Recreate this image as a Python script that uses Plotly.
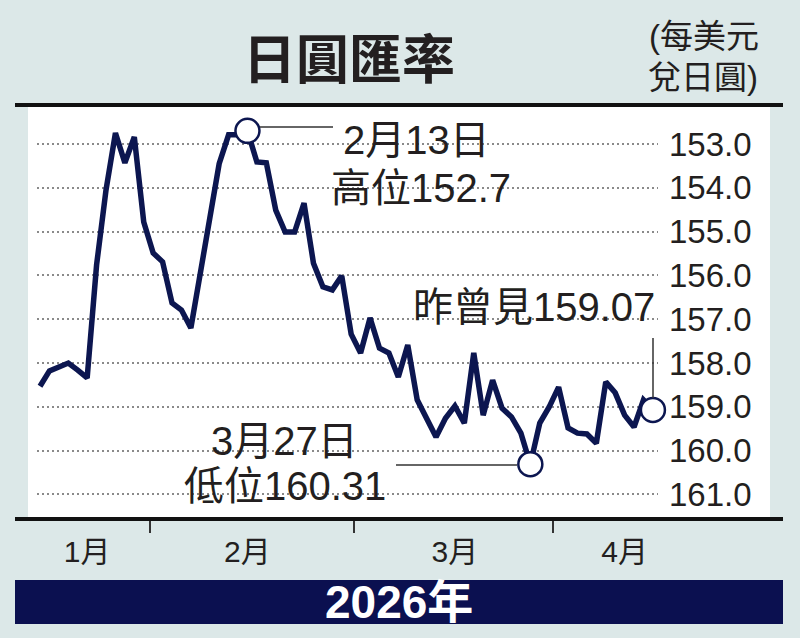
import pandas as pd
import plotly.graph_objects as go

# ---------------- data ----------------
dates = [d.strftime("%Y-%m-%d") for d in pd.bdate_range("2026-01-14", "2026-04-15")]
usd_jpy = [158.53, 158.18, 158.09, 158.00, 158.16, 158.34, 155.76, 154.05, 152.75, 153.43,
           152.84, 154.78, 155.49, 155.69, 156.63, 156.79, 157.20, 156.00, 154.70, 153.45,
           152.79, 152.79, 152.70, 153.41, 153.43, 154.51, 155.01, 155.01, 154.35, 155.72,
           156.26, 156.33, 156.01, 157.34, 157.77, 156.97, 157.66, 157.77, 158.32, 157.59,
           158.84, 159.26, 159.69, 159.26, 158.98, 159.37, 157.77, 159.19, 158.39, 159.03,
           159.23, 159.60, 160.31, 159.37, 159.00, 158.55, 159.48, 159.60, 159.62, 159.83,
           158.43, 158.68, 159.19, 159.46, 158.84, 159.07]
y_ticks = [153, 154, 155, 156, 157, 158, 159, 160, 161]
y_tick_labels = ["153.0", "154.0", "155.0", "156.0", "157.0", "158.0", "159.0", "160.0", "161.0"]
month_tick_dates = ["2026-01-21", "2026-02-13", "2026-03-17", "2026-04-10"]
month_labels = ["1月", "2月", "3月", "4月"]
title_text = "日圓匯率"
unit_lines = ["(每美元", "兌日圓)"]
year_text = "2026年"
high_lines = ["2月13日", "高位152.7"]
low_lines = ["3月27日", "低位160.31"]
last_text = "昨曾見159.07"

assert len(dates) == len(usd_jpy)

# ---------------- styling / layout helpers ----------------
W, H = 800, 638
L, R, T, B = 37, 658, 105, 519
NAVY = "#0c1650"
BG = "#dce8e8"
TXT = "#231f20"
FONT = "Liberation Sans, Arial, Noto Sans CJK TC, sans-serif"


def fx(px):
    return (px - L) / (R - L)


def fy(py):
    return (B - py) / (B - T)


i_high = min(range(len(usd_jpy)), key=lambda i: usd_jpy[i])
i_low = max(range(len(usd_jpy)), key=lambda i: usd_jpy[i])
i_last = len(usd_jpy) - 1
mark_idx = [i_high, i_low, i_last]

fig = go.Figure()
fig.add_trace(go.Scatter(
    x=dates, y=usd_jpy, mode="lines",
    line=dict(color=NAVY, width=5.5, shape="linear"),
    hoverinfo="skip", showlegend=False,
))
fig.add_trace(go.Scatter(
    x=[dates[i] for i in mark_idx], y=[usd_jpy[i] for i in mark_idx],
    mode="markers",
    marker=dict(symbol="circle", size=24, color="white", line=dict(color=NAVY, width=2.5)),
    cliponaxis=False, hoverinfo="skip", showlegend=False,
))

shapes = []
# white panel
shapes.append(dict(type="rect", xref="paper", yref="paper", x0=fx(28), x1=fx(770), y0=fy(519), y1=fy(105),
                   fillcolor="white", line=dict(width=0), layer="below"))
# masks hiding grid behind annotation texts
for (x0, x1, y0, y1) in [(315, 522, 115, 212), (400, 662, 288, 332), (168, 405, 420, 508)]:
    shapes.append(dict(type="rect", xref="paper", yref="paper", x0=fx(x0), x1=fx(x1), y0=fy(y1), y1=fy(y0),
                       fillcolor="white", line=dict(width=0), layer="between"))
# top and bottom rules
for py in (105, 519):
    shapes.append(dict(type="line", xref="paper", yref="paper", x0=fx(15), x1=fx(783), y0=fy(py), y1=fy(py),
                       line=dict(color="#111111", width=4), layer="above"))
# month separators
for px in (150, 354, 553):
    shapes.append(dict(type="line", xref="paper", yref="paper", x0=fx(px), x1=fx(px), y0=fy(521), y1=fy(533),
                       line=dict(color="#333333", width=2), layer="above"))
# connectors
shapes.append(dict(type="line", xref="paper", yref="paper", x0=fx(260), x1=fx(333), y0=fy(127), y1=fy(127),
                   line=dict(color="#333333", width=1.5), layer="above"))
shapes.append(dict(type="line", xref="paper", yref="paper", x0=fx(396), x1=fx(517), y0=fy(465), y1=fy(465),
                   line=dict(color="#333333", width=1.5), layer="above"))
shapes.append(dict(type="line", xref="paper", yref="paper", x0=fx(653), x1=fx(653), y0=fy(338), y1=fy(398),
                   line=dict(color="#333333", width=1.5), layer="above"))
# year bar
shapes.append(dict(type="rect", xref="paper", yref="paper", x0=fx(15), x1=fx(783), y0=fy(624), y1=fy(580),
                   fillcolor="#0b1050", line=dict(width=0), layer="above"))

annotations = []


def txt(text, px, py, size, color=TXT, bold=False, xanchor="center"):
    annotations.append(dict(
        text=f"<b>{text}</b>" if bold else text, xref="paper", yref="paper",
        x=fx(px), y=fy(py), xanchor=xanchor, yanchor="middle", showarrow=False,
        font=dict(family=FONT, size=size, color=color)))


txt(title_text, 349, 61, 53, bold=True)
txt(unit_lines[0], 704, 37, 33)
txt(unit_lines[1], 703, 78, 33)
txt(high_lines[0], 416, 140, 40)
txt(high_lines[1], 421, 188, 40)
txt(low_lines[0], 284, 441, 40)
txt(low_lines[1], 285, 486, 40)
txt(last_text, 534, 307, 40)
txt(year_text, 399, 602, 46, color="white", bold=True)

fig.update_layout(
    width=W, height=H,
    margin=dict(l=L, r=W - R, t=T, b=H - B, pad=0),
    paper_bgcolor=BG, plot_bgcolor="white",
    font=dict(family=FONT, color=TXT),
    shapes=shapes, annotations=annotations,
    showlegend=False,
)
fig.update_xaxes(
    type="category", range=[-0.32, 65.54], showgrid=False, zeroline=False, showline=False,
    ticks="", tickmode="array", tickvals=month_tick_dates, ticktext=month_labels,
    tickfont=dict(family=FONT, size=30, color=TXT), ticklabelstandoff=12,
)
fig.update_yaxes(
    side="right", autorange=False, range=[161.56, 152.11],
    tickmode="array", tickvals=y_ticks, ticktext=y_tick_labels,
    tickfont=dict(family=FONT, size=33, color=TXT), ticks="", ticklabelstandoff=10,
    showgrid=True, gridcolor="#8a8a8a", gridwidth=1.5, griddash="2px,3px",
    zeroline=False, showline=False,
)

fig.write_html(
    "out.html",
    config={"displayModeBar": False},
    post_script="document.body.style.margin='0';document.body.style.overflow='hidden';",
)
